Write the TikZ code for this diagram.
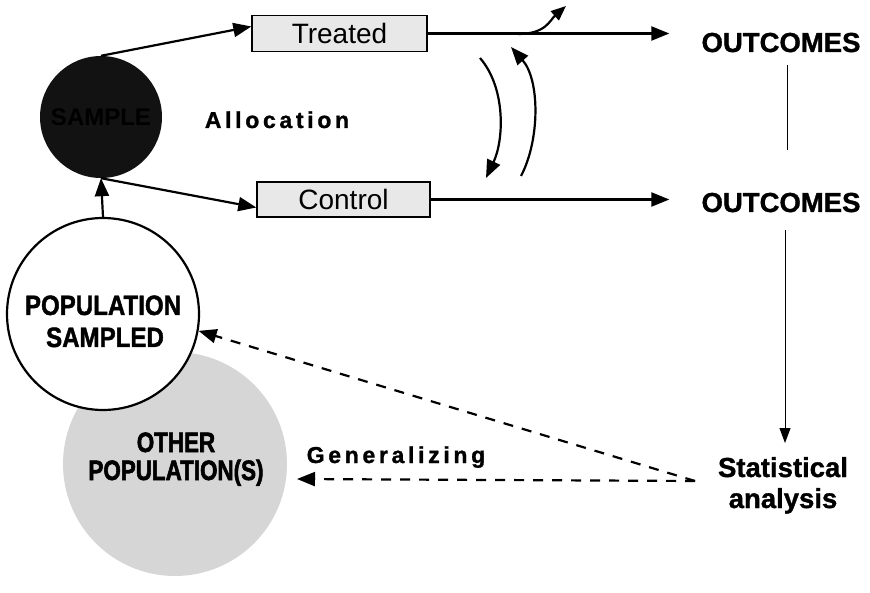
\documentclass[tikz,border=0pt]{standalone}
\usepackage{fontspec}
\setmainfont{Liberation Sans}
\usetikzlibrary{arrows.meta}
\begin{document}
\begin{tikzpicture}[x=1pt,y=-1pt,
  tip/.style={-{Triangle[length=18pt,width=14pt]}},
  smalltip/.style={-{Triangle[length=15pt,width=12pt]}},
  thintip/.style={-{Triangle[length=15pt,width=11pt]}},
  heavy/.style={line width=2.2pt},
  hair/.style={line width=1pt},
  genline/.style={heavy, dash pattern=on 10pt off 9pt},
  armbox/.style={draw, line width=1.4pt, fill=gray!18, inner sep=0pt,
    minimum height=36pt, font=\fontsize{28}{30}\selectfont},
  capsbold/.style={font=\fontsize{27.5}{30}\selectfont\bfseries\addfontfeature{FakeBold=1.2},
    anchor=base, inner sep=0pt},
  circlelabel/.style={font=\fontsize{28}{30}\selectfont\bfseries\addfontfeature{FakeStretch=0.86,FakeBold=1.5},
    anchor=base, inner sep=0pt},
  squeezed/.style={font=\fontsize{28}{30}\selectfont\bfseries\addfontfeature{FakeStretch=0.8,FakeBold=2}},
  spaced/.style={font=\fontsize{23}{26}\selectfont\bfseries\addfontfeature{LetterSpace=16,FakeBold=1.2},
    anchor=base, inner sep=0pt}
]
\useasboundingbox (0,0) rectangle (870,593);

% populations
\node[circle, fill=gray!32, minimum size=224pt, inner sep=0pt] (other) at (175,464) {};
\node[circle, draw, line width=2.2pt, fill=white, minimum size=192pt, inner sep=0pt] (pop) at (103,314) {};
\node[circlelabel] (popA) at (103,315) {POPULATION};
\node[circlelabel] (popB) at (105,347) {SAMPLED};
\node[circlelabel, squeezed] (otherA) at (176,452) {OTHER};
\node[circlelabel, squeezed] (otherB) at (176,480) {POPULATION(S)};

% the sample, dark halftone with its label barely showing
\node[circle, fill=black!93, minimum size=122pt, inner sep=0pt,
  font=\fontsize{24}{26}\selectfont\bfseries, text=black] (sample) at (101,117) {SAMPLE};

% arms of the trial
\node[armbox, minimum width=175pt] (treated) at (339.5,33.5) {Treated};
\node[armbox, minimum width=173pt, minimum height=35pt] (control) at (343.5,199.5) {Control};

\node[spaced] (alloc) at (277,128) {Allocation};

% outcomes and analysis
\node[capsbold] (outA) at (781,52) {OUTCOMES};
\node[capsbold] (outB) at (781,212) {OUTCOMES};
\node[capsbold] (statA) at (783,477) {Statistical};
\node[capsbold] (statB) at (783,508) {analysis};

\node[spaced] (gen) at (396,463) {Generalizing};

% connectors
\draw[heavy, tip] (pop.north) -- (sample.south);
\draw[heavy, tip] (sample.north) -- ([yshift=7pt]treated.west);
\draw[heavy, tip] (sample.south) -- ([yshift=-8pt]control.west);

\draw[heavy, tip, shorten >=32pt] (treated.east) -- (treated.east -| outA.west);
\draw[heavy, tip, shorten >=32pt] (control.east) -- (control.east -| outB.west);

\coordinate (branchA) at (518,34);
\coordinate (branchB) at (566,6);
\draw[heavy, smalltip] (branchA) .. controls (546,34) and (550,20) .. (branchB);

% switching between arms
\coordinate (downA) at (480,58);
\coordinate (downB) at (486,178);
\draw[heavy, tip] (downA) .. controls (506,88) and (504,140) .. (downB);
\coordinate (upA) at (521,176);
\coordinate (upB) at (511,47);
\draw[heavy, tip] (upA) .. controls (540,140) and (540,80) .. (upB);

\coordinate (linkA) at (787,65);
\coordinate (linkB) at (787,150);
\draw[hair] (linkA) -- (linkB);
\coordinate (linkC) at (785,230);
\coordinate (linkD) at (785,443);
\draw[hair, thintip] (linkC) -- (linkD);

% generalizing back
\coordinate (genstart) at (695,481);
\coordinate (gentip) at (297,479);
\draw[genline, tip] (genstart) -- (pop.-10);
\draw[genline, tip] (genstart) -- (gentip);
\end{tikzpicture}
\end{document}
